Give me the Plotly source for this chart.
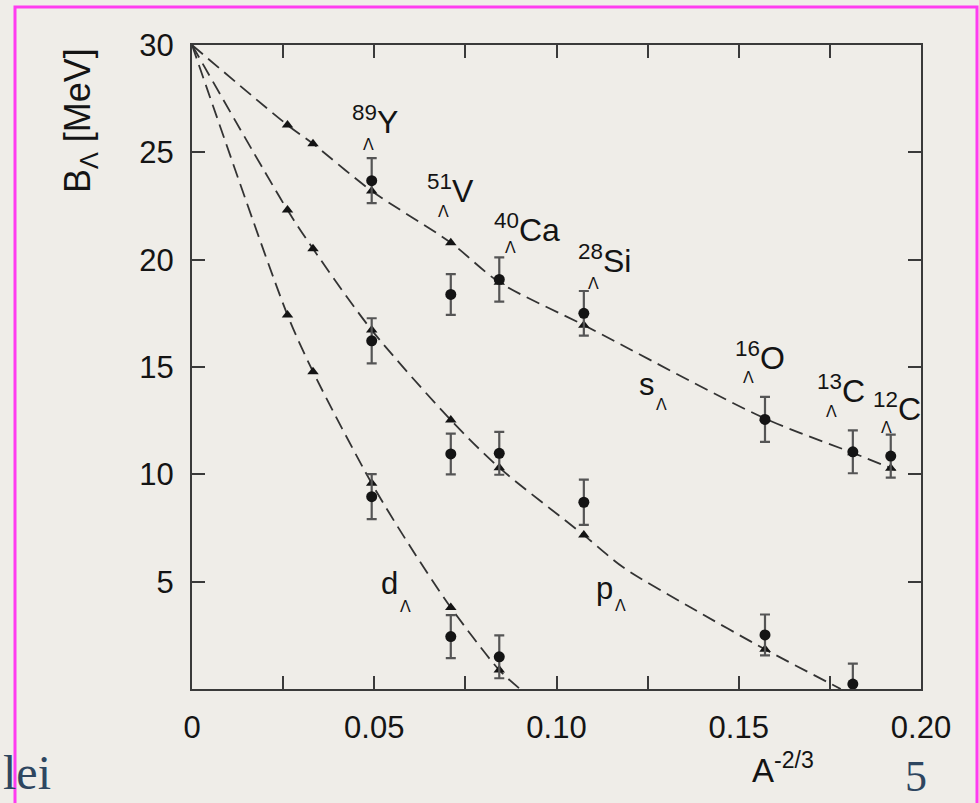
import plotly.graph_objects as go

# ---------------- data ----------------
# nuclei positions on x axis (A^-2/3) for experimental points
exp_x = [0.0493, 0.0710, 0.0843, 0.1075, 0.1572, 0.1813, 0.1917]
exp_names = ["89", "51", "40", "28", "16", "13", "12"]
exp_elems = ["Y", "V", "Ca", "Si", "O", "C", "C"]

# experimental s-shell B_Lambda and errors
s_exp_y = [23.68, 18.38, 19.08, 17.50, 12.56, 11.05, 10.85]
s_exp_err = [1.05, 0.95, 1.03, 1.04, 1.05, 1.00, 1.00]
# experimental p-shell
p_exp_x = [0.0493, 0.0710, 0.0843, 0.1075, 0.1572, 0.1813]
p_exp_y = [16.22, 10.95, 10.98, 8.70, 2.52, 0.23]
p_exp_err = [1.05, 0.95, 1.00, 1.05, 0.95, 0.95]
# experimental d-shell
d_exp_x = [0.0493, 0.0710, 0.0843]
d_exp_y = [8.96, 2.44, 1.50]
d_exp_err = [1.05, 1.00, 1.00]

# calculated values (triangles)
s_calc_x = [0.0262, 0.0332, 0.0493, 0.0710, 0.0843, 0.1075, 0.1572, 0.1813, 0.1917]
s_calc_y = [26.27, 25.40, 23.20, 20.79, 18.95, 16.95, 12.60, 11.00, 10.28]
p_calc_x = [0.0262, 0.0332, 0.0493, 0.0710, 0.0843, 0.1075, 0.1572]
p_calc_y = [22.31, 20.51, 16.72, 12.53, 10.31, 7.17, 1.85]
d_calc_x = [0.0262, 0.0332, 0.0493, 0.0710, 0.0843]
d_calc_y = [17.42, 14.78, 9.58, 3.80, 0.88]

# dashed guide curves (points read along the drawn dashes)
s_curve_x = [0.0, 0.0262, 0.0332, 0.0493, 0.0710, 0.0843, 0.1075, 0.1572, 0.1813, 0.1930]
s_curve_y = [30.0, 26.27, 25.40, 23.20, 20.79, 18.95, 16.95, 12.60, 11.00, 10.20]
p_curve_x = [0.0, 0.0262, 0.0332, 0.0493, 0.0710, 0.0843, 0.1075, 0.1182, 0.1366, 0.1572, 0.1780]
p_curve_y = [30.0, 22.31, 20.51, 16.72, 12.53, 10.31, 7.17, 5.68, 3.82, 1.85, 0.0]
d_curve_x = [0.0, 0.0262, 0.0332, 0.0493, 0.0600, 0.0710, 0.0843, 0.0900]
d_curve_y = [30.0, 17.42, 14.78, 9.58, 6.60, 3.80, 0.88, 0.0]

x_tickvals = [0, 0.05, 0.10, 0.15, 0.20]
x_ticktext = ["0", "0.05", "0.10", "0.15", "0.20"]
y_tickvals = [5, 10, 15, 20, 25, 30]
y_ticktext = ["5", "10", "15", "20", "25", "30"]

# ---------------- figure ----------------
W, H = 979, 803
L, R, T, B = 192, 921, 45, 689
BG = "#efede8"
INK = "#141414"
FONT = "Liberation Sans, Arial, Helvetica, sans-serif"
SERIF = "Liberation Serif, DejaVu Serif, serif"
SLIDE = "#2e4660"


def P(px, py):
    return (px - L) / (R - L), (B - py) / (B - T)


fig = go.Figure()

dash_line = dict(color="#333333", width=1.8, dash="14px,7px", shape="spline", smoothing=0.8)
for cx, cy in [(s_curve_x, s_curve_y), (p_curve_x, p_curve_y), (d_curve_x, d_curve_y)]:
    fig.add_trace(go.Scatter(x=cx, y=cy, mode="lines", line=dash_line,
                             hoverinfo="skip", showlegend=False))

for tx, ty in [(s_calc_x, s_calc_y), (p_calc_x, p_calc_y), (d_calc_x, d_calc_y)]:
    fig.add_trace(go.Scatter(x=tx, y=ty, mode="markers",
                             marker=dict(symbol="triangle-up", size=10, color=INK),
                             cliponaxis=False, showlegend=False))

for ex, ey, ee in [(exp_x, s_exp_y, s_exp_err), (p_exp_x, p_exp_y, p_exp_err),
                   (d_exp_x, d_exp_y, d_exp_err)]:
    fig.add_trace(go.Scatter(x=ex, y=ey, mode="markers",
                             marker=dict(symbol="circle", size=11, color=INK),
                             error_y=dict(type="data", array=ee, visible=True,
                                          color="#555555", thickness=2.2, width=5),
                             cliponaxis=False, showlegend=False))

annotations = []

# nuclide labels: (left px, main glyph center y, Lambda center x, Lambda center y)
label_pos = [(350, 120, 368, 145), (425, 189, 443, 211), (492, 228, 510, 248),
             (576, 259, 593, 283), (733, 356, 748, 377), (815, 389, 831, 411),
             (871, 407, 886, 427)]
for (mass, el), (lx, cy, ax_, ay_) in zip(zip(exp_names, exp_elems), label_pos):
    x0, y0 = P(lx, cy)
    annotations.append(dict(x=x0, y=y0, xref="paper", yref="paper", xanchor="left",
                            yanchor="middle", showarrow=False,
                            text=f"<sup>{mass}</sup>{el}",
                            font=dict(family=FONT, size=32, color=INK)))
    x1, y1 = P(ax_, ay_)
    annotations.append(dict(x=x1, y=y1, xref="paper", yref="paper", xanchor="center",
                            yanchor="middle", showarrow=False, text="Λ",
                            font=dict(family=FONT, size=16, color=INK)))

# shell labels
for letter, (lx, cy, ax_, ay_) in zip(["s", "p", "d"],
                                      [(637, 384, 661, 404), (594, 588, 620, 605),
                                       (379, 583, 405, 606)]):
    x0, y0 = P(lx, cy)
    annotations.append(dict(x=x0, y=y0, xref="paper", yref="paper", xanchor="left",
                            yanchor="middle", showarrow=False, text=letter,
                            font=dict(family=FONT, size=31, color=INK)))
    x1, y1 = P(ax_, ay_)
    annotations.append(dict(x=x1, y=y1, xref="paper", yref="paper", xanchor="center",
                            yanchor="middle", showarrow=False, text="Λ",
                            font=dict(family=FONT, size=16, color=INK)))

# axis titles
x0, y0 = P(80, 120)
annotations.append(dict(x=x0, y=y0, xref="paper", yref="paper", xanchor="center",
                        yanchor="middle", showarrow=False, textangle=-90,
                        text="B<sub>Λ</sub> [MeV]",
                        font=dict(family=FONT, size=36, color=INK)))
x0, y0 = P(783, 768)
annotations.append(dict(x=x0, y=y0, xref="paper", yref="paper", xanchor="center",
                        yanchor="middle", showarrow=False, text="A<sup>-2/3</sup>",
                        font=dict(family=FONT, size=33, color=INK)))

# slide texts
x0, y0 = P(1, 772)
annotations.append(dict(x=x0, y=y0, xref="paper", yref="paper", xanchor="left",
                        yanchor="middle", showarrow=False, text="lei",
                        font=dict(family=SERIF, size=48, color=SLIDE)))
x0, y0 = P(916, 776)
annotations.append(dict(x=x0, y=y0, xref="paper", yref="paper", xanchor="center",
                        yanchor="middle", showarrow=False, text="5",
                        font=dict(family=SERIF, size=44, color=SLIDE)))

bx0, by0 = P(15, 830)
bx1, by1 = P(977, 7)
shapes = [dict(type="rect", xref="paper", yref="paper", x0=bx0, y0=by0, x1=bx1, y1=by1,
               line=dict(color="#ff3cf0", width=3), layer="above")]

axis_common = dict(showline=True, linecolor="#3a3a3a", linewidth=2, mirror="allticks",
                   ticks="inside", ticklen=13, tickwidth=1.5, tickcolor="#3a3a3a",
                   showgrid=False, zeroline=False,
                   tickfont=dict(family=FONT, size=31, color=INK))

fig.update_layout(
    width=W, height=H,
    margin=dict(l=L, r=W - R, t=T, b=H - B, pad=0),
    paper_bgcolor=BG, plot_bgcolor=BG,
    xaxis=dict(range=[0, 0.2], tickmode="array", tickvals=x_tickvals,
               ticktext=x_ticktext, ticklabelstandoff=10,
               minor=dict(ticks="inside", dtick=0.025, tick0=0, ticklen=13,
                          tickwidth=1.5, tickcolor="#3a3a3a", showgrid=False),
               **axis_common),
    yaxis=dict(range=[0, 30], tickmode="array", tickvals=y_tickvals,
               ticktext=y_ticktext, ticklabelstandoff=10, **axis_common),
    annotations=annotations,
    shapes=shapes,
    showlegend=False,
)

fig.write_html("out.html")
